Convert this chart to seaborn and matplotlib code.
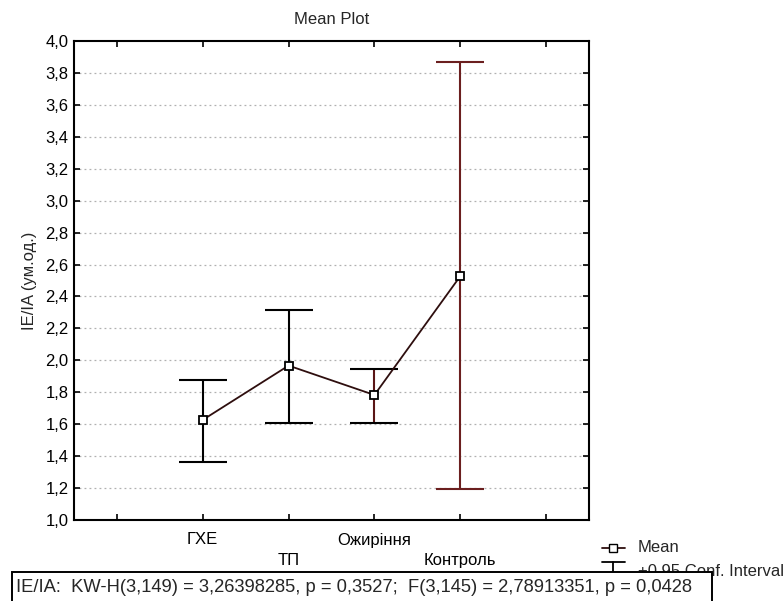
import matplotlib
matplotlib.use("Agg")
import matplotlib.pyplot as plt
import matplotlib.patches as mpatches
import seaborn as sns
import pandas as pd
import numpy as np
from matplotlib.lines import Line2D

categories = ["ГХЕ", "ТП", "Ожиріння", "Контроль"]
means = [1.627, 1.967, 1.783, 2.527]
ci_low = [1.364, 1.606, 1.61, 1.193]
ci_high = [1.877, 2.316, 1.944, 3.868]
y_ticks = [1.0, 1.2, 1.4, 1.6, 1.8, 2.0, 2.2, 2.4, 2.6, 2.8, 3.0, 3.2, 3.4, 3.6, 3.8, 4.0]
stat_text = "IE/IA:  KW-H(3,149) = 3,26398285, p = 0,3527;  F(3,145) = 2,78913351, p = 0,0428"

sns.set_style("white")
plt.rcParams['font.family'] = ['Liberation Sans', 'DejaVu Sans']

df = pd.DataFrame({"group": categories, "mean": means})

fig = plt.figure(figsize=(7.83, 6.01), dpi=100)
ax = fig.add_axes([74/783, 1-520/601, (589-74)/783, (520-41)/601])

line_col = "#2e0e0e"
bar_cols = ["black", "black", "#5a1515", "#6b1f1f"]
cap_cols = ["black", "black", "black", "#6b1f1f"]
cap_half = 0.28

# error bars
for i in range(len(categories)):
    ax.vlines(i, ci_low[i], ci_high[i], color=bar_cols[i], lw=1.5, zorder=2)
    ax.hlines([ci_low[i], ci_high[i]], i - cap_half, i + cap_half, color=cap_cols[i], lw=1.5, zorder=2)

sns.pointplot(data=df, x="group", y="mean", order=categories, ax=ax,
              color=line_col, markers="s", errorbar=None,
              markersize=6, linewidth=1.3,
              markerfacecolor="white", markeredgecolor="black", markeredgewidth=1.3)
for l in ax.lines:
    l.set_zorder(3)
    l.set_markerfacecolor("white")
    l.set_markeredgecolor("black")

ax.set_xlim(-1.5, 4.5)
ax.set_ylim(1.0, 4.0)
ax.set_xticks([-1, 0, 1, 2, 3, 4])
ax.set_xticklabels(["", categories[0], "\n" + categories[1], categories[2], "\n" + categories[3], ""],
                   fontsize=12)
ax.set_yticks(y_ticks)
ax.set_yticklabels([f"{v:.1f}".replace(".", ",") for v in y_ticks], fontsize=12)
ax.tick_params(axis="both", direction="in", length=4, width=1.2, top=True, right=True,
               bottom=True, left=True, colors="black")
ax.tick_params(axis="x", pad=9)
ax.tick_params(axis="y", pad=4)
for lab in ax.get_xticklabels():
    lab.set_linespacing(1.45)

for v in y_ticks[1:-1]:
    ax.axhline(v, color="#b0b0b0", lw=0.9, ls=(0, (1.5, 2.5)), zorder=0)

for s in ax.spines.values():
    s.set_color("black")
    s.set_linewidth(1.5)

ax.set_xlabel("")
ax.set_ylabel("IE/IA (ум.од.)", fontsize=12, labelpad=6)
ax.set_title("Mean Plot", fontsize=12, pad=12)

# legend (manual)
fig.text(638/783, 1-548/601, "Mean", fontsize=12, va="center", ha="left")
fig.lines.append(Line2D([602/783, 625/783], [1-548/601, 1-548/601], color=line_col, lw=1.3,
                        transform=fig.transFigure))
fig.lines.append(Line2D([613/783], [1-548/601], color=line_col, marker="s", markersize=6,
                        markerfacecolor="white", markeredgecolor="black", transform=fig.transFigure))
fig.lines.append(Line2D([602/783, 625/783], [1-562/601, 1-562/601], color="black", lw=1.3,
                        transform=fig.transFigure))
fig.lines.append(Line2D([613/783, 613/783], [1-562/601, 1-576/601], color="black", lw=1.3,
                        transform=fig.transFigure))
fig.text(638/783, 1-571/601, "+0.95 Conf. Interval", fontsize=12, va="center", ha="left")

# stats box
rect = mpatches.Rectangle((12/783, 1-612/601), (712-12)/783, (612-572)/601,
                          transform=fig.transFigure, fc="white", ec="black", lw=1.4, zorder=9)
fig.patches.append(rect)
fig.text(16/783, 1-587/601, stat_text, fontsize=13.2, va="center", ha="left", zorder=10)

fig.savefig("out.png", dpi=100)
